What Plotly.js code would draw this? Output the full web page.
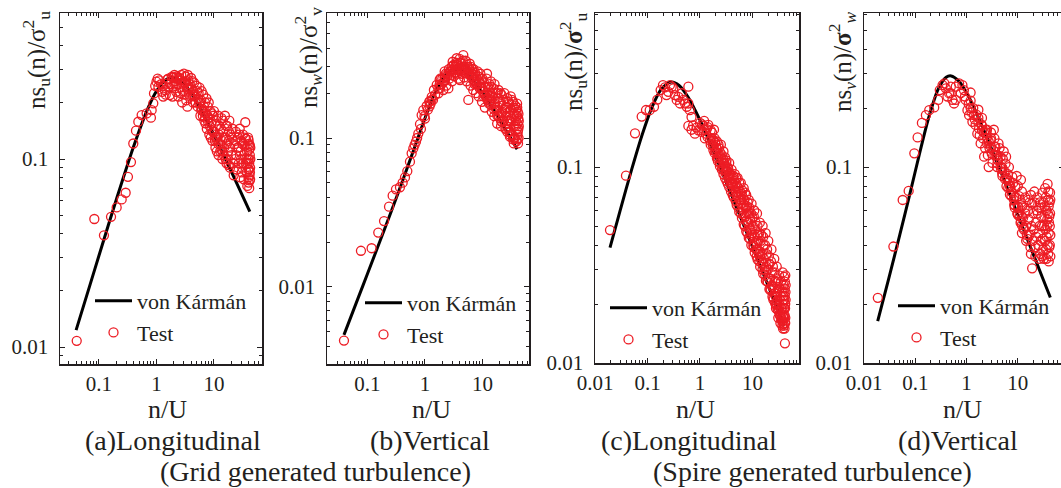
<!DOCTYPE html>
<html>
<head>
<meta charset="utf-8">
<script src="https://cdn.plot.ly/plotly-3.0.1.min.js"></script>
<style>
html, body { margin: 0; padding: 0; overflow: hidden; background: #fff; }
#chart { width: 1066px; height: 488px; }
</style>
</head>
<body>
<div id="chart"></div>
<script>
// ---------------- data ----------------
// (a) Grid turbulence, longitudinal
const vkAx = [0.04, 0.07, 0.1, 0.2, 0.4, 0.7, 1, 1.5, 2, 3, 5, 8, 12, 20, 30, 42];
const vkAy = [0.0123, 0.0215, 0.0307, 0.0608, 0.1167, 0.1845, 0.230, 0.2655, 0.271, 0.251, 0.2014, 0.154, 0.1196, 0.0859, 0.0657, 0.0526];
const testAx = [0.041, 0.083, 0.122, 0.162, 0.203, 0.248, 0.291, 0.319, 0.36, 0.395, 0.44, 0.483, 0.552, 0.674, 0.824, 0.80, 0.88, 0.905, 0.95, 1.0, 1.05, 1.08, 1.12, 1.2, 1.25, 1.31, 1.4, 1.5, 1.6, 1.7, 1.84, 1.96, 2.05, 2.1, 2.2, 2.3, 2.4, 2.5, 2.6, 2.7, 2.8, 2.9, 3.0, 3.1, 3.2, 3.3, 3.4, 3.5, 3.6, 3.7, 3.8, 4.0, 4.1, 4.3, 4.5, 4.7, 5.0, 5.2, 5.4, 5.6, 5.8, 6.0, 6.2, 6.5, 6.8, 7.0, 7.2, 7.5, 7.8, 8.0, 8.3, 8.6, 9.0, 9.4, 9.8, 10.2, 10.6, 11.0, 11.5, 12, 12.5, 13, 13.5, 14, 14.5, 15, 15.5, 16, 16.5, 17, 17.5, 18, 18.5, 19, 19.5, 20, 21, 22, 22.5, 23, 24, 25, 25.5, 26, 27, 28, 28.5, 29, 30, 31, 32, 33, 33.5, 34, 35, 35.5, 36, 37, 37.5, 38, 38.5, 39, 39.5, 40, 40, 40.5, 41, 41, 41.5, 42, 42, 42.5, 42.5,
  1.3, 1.45, 1.55, 1.75, 1.9, 2.15, 2.35, 2.55, 2.75, 3.05, 3.25, 3.45, 3.9, 4.2, 4.4, 4.8, 5.1, 5.3, 5.7, 6.1, 6.4, 6.7, 7.1, 7.4, 7.7, 8.1, 8.4, 8.8, 9.2, 9.6, 10, 10.4, 10.8, 11.2, 11.8, 12.2, 12.8, 13.2, 13.8, 14.3, 14.8, 15.3, 16.2, 16.8, 17.3, 18.2, 19.2, 20.5, 21.5, 23.5, 24.5, 26.5, 27.5, 29.5, 30.5, 31.5, 32.5, 34.5, 36.5, 38.2, 39.2, 40.2, 41.2, 41.8, 42.2, 42.8, 42.8, 40.8, 39.8,
  1.6, 1.9, 2.25, 2.65, 3.15, 3.75, 4.5, 5.5, 6.6, 7.9, 9.5, 11.3, 13.5, 16, 18,
  2.0, 2.5, 3.5, 4.2, 6, 7, 9, 10.5, 12, 14];
const testAy = [0.0108, 0.048, 0.0393, 0.0493, 0.0553, 0.061, 0.0662, 0.0805, 0.0964, 0.121, 0.1416, 0.158, 0.1714, 0.175, 0.182, 0.166, 0.198, 0.2235, 0.245, 0.258, 0.268, 0.2425, 0.262, 0.25, 0.228, 0.215, 0.233, 0.252, 0.24, 0.219, 0.274, 0.243, 0.28, 0.26, 0.228, 0.25, 0.215, 0.27, 0.24, 0.28, 0.2, 0.23, 0.285, 0.255, 0.275, 0.205, 0.24, 0.28, 0.262, 0.22, 0.25, 0.27, 0.235, 0.2, 0.255, 0.215, 0.245, 0.19, 0.225, 0.24, 0.17, 0.205, 0.185, 0.22, 0.16, 0.2, 0.175, 0.145, 0.19, 0.165, 0.135, 0.18, 0.155, 0.125, 0.17, 0.14, 0.115, 0.16, 0.13, 0.105, 0.15, 0.12, 0.165, 0.1, 0.14, 0.115, 0.17, 0.13, 0.095, 0.15, 0.11, 0.125, 0.16, 0.09, 0.135, 0.105, 0.145, 0.082, 0.12, 0.1, 0.14, 0.088, 0.115, 0.13, 0.095, 0.145, 0.08, 0.11, 0.125, 0.09, 0.135, 0.078, 0.105, 0.118, 0.157, 0.095, 0.128, 0.085, 0.11, 0.072, 0.12, 0.1, 0.088, 0.126, 0.075, 0.112, 0.095, 0.07, 0.082, 0.105, 0.118, 0.09, 0.078,
  0.245, 0.22, 0.265, 0.25, 0.215, 0.245, 0.27, 0.225, 0.255, 0.22, 0.26, 0.19, 0.215, 0.26, 0.23, 0.2, 0.23, 0.21, 0.2, 0.23, 0.17, 0.19, 0.155, 0.21, 0.17, 0.2, 0.15, 0.13, 0.175, 0.14, 0.18, 0.125, 0.15, 0.11, 0.17, 0.135, 0.11, 0.145, 0.125, 0.16, 0.105, 0.13, 0.15, 0.12, 0.1, 0.14, 0.115, 0.13, 0.095, 0.125, 0.105, 0.115, 0.135, 0.1, 0.085, 0.12, 0.095, 0.13, 0.1, 0.095, 0.13, 0.1, 0.12, 0.077, 0.085, 0.1, 0.115, 0.088, 0.08,
  0.268, 0.272, 0.275, 0.262, 0.255, 0.24, 0.22, 0.198, 0.178, 0.158, 0.14, 0.126, 0.112, 0.1, 0.093,
  0.271, 0.262, 0.235, 0.218, 0.183, 0.166, 0.143, 0.131, 0.12, 0.11];

// (b) Grid turbulence, vertical
const vkBx = [0.039, 0.07, 0.1, 0.2, 0.35, 0.6, 1, 1.5, 2.5, 4, 6, 10, 15, 25, 40];
const vkBy = [0.00477, 0.00858, 0.01227, 0.02469, 0.0439, 0.0780, 0.1358, 0.2017, 0.2764, 0.2891, 0.2587, 0.2017, 0.1585, 0.1146, 0.0841];
const testBx = [0.039, 0.077, 0.118, 0.154, 0.194, 0.237, 0.274, 0.313, 0.367, 0.409, 0.449, 0.493, 0.548, 0.586, 0.627, 0.66, 0.697, 0.73, 0.766, 0.819, 0.85, 0.875, 0.935, 0.98, 1.07, 1.12, 1.19, 1.25, 1.31, 1.38, 1.43, 1.5, 1.6, 1.71, 1.8, 1.87, 1.95, 2.08, 2.15, 2.23, 2.35, 2.45, 2.55, 2.65, 2.72, 2.85, 2.95, 3.03, 3.1, 3.2, 3.32, 3.4, 3.55, 3.65, 3.8, 3.9, 4.06, 4.2, 4.35, 4.5, 4.64, 4.8, 4.96, 5.1, 5.3, 5.5, 5.67, 5.8, 6.0, 6.2, 6.4, 6.6, 6.9, 7.1, 7.4, 7.7, 8.0, 8.3, 8.6, 9.0, 9.4, 9.8, 10.2, 10.6, 11, 11.5, 12, 12.5, 13, 13.5, 14, 14.5, 15, 15.5, 16, 16.5, 17, 17.5, 18, 18.5, 19, 19.5, 20, 21, 21.5, 22, 23, 23.5, 24, 25, 25.5, 26, 27, 28, 29, 29.5, 30, 31, 32, 33, 33.5, 34, 35, 36, 36.5, 37, 38, 38.5, 39, 39.5, 40, 40, 40.5, 41, 41, 41.5, 42, 42, 42.5,
  2.0, 2.3, 2.6, 2.9, 3.15, 3.5, 3.7, 4.0, 4.3, 4.55, 4.75, 5.2, 5.4, 5.9, 6.3, 6.7, 7.0, 7.3, 7.6, 8.2, 8.8, 9.2, 9.6, 10, 10.4, 11.2, 11.8, 12.2, 13.2, 13.8, 14.2, 15.2, 16.2, 16.8, 18.2, 19.2, 20.5, 22.5, 24.5, 26.5, 27.5, 28.5, 30.5, 31.5, 32.5, 34.5, 35.5, 37.5, 39.2, 40.2, 41.2, 42.2, 42.8, 42.8, 40.8,
  1.0, 1.3, 1.7, 2.2, 2.8, 3.5, 4.4, 5.4, 6.5, 7.8, 9, 11, 13, 16, 19, 22, 26, 30, 34,
  1.2, 1.2, 1.8, 1.8, 2.2, 2.2, 3, 3, 3.6, 3.6, 5, 5, 7, 7, 8, 8, 9, 9, 12, 12, 14, 14, 18, 18, 21, 21, 27, 27, 30, 30, 35, 35];
const testBy = [0.00437, 0.0175, 0.0182, 0.0232, 0.0277, 0.0346, 0.041, 0.0452, 0.0467, 0.0501, 0.0544, 0.06, 0.0694, 0.0789, 0.0853, 0.09, 0.0945, 0.1, 0.107, 0.124, 0.115, 0.1426, 0.154, 0.14, 0.164, 0.155, 0.175, 0.17, 0.189, 0.18, 0.21, 0.195, 0.227, 0.1995, 0.215, 0.251, 0.23, 0.21, 0.24, 0.245, 0.225, 0.26, 0.215, 0.25, 0.279, 0.265, 0.24, 0.325, 0.29, 0.26, 0.30, 0.275, 0.343, 0.31, 0.25, 0.29, 0.245, 0.32, 0.27, 0.3, 0.36, 0.255, 0.286, 0.33, 0.24, 0.3, 0.18, 0.27, 0.315, 0.225, 0.26, 0.29, 0.21, 0.245, 0.275, 0.2, 0.23, 0.26, 0.19, 0.22, 0.25, 0.175, 0.205, 0.235, 0.16, 0.19, 0.27, 0.22, 0.17, 0.2, 0.24, 0.15, 0.185, 0.215, 0.14, 0.17, 0.2, 0.155, 0.125, 0.185, 0.21, 0.14, 0.165, 0.12, 0.195, 0.15, 0.18, 0.13, 0.2, 0.115, 0.16, 0.14, 0.185, 0.125, 0.17, 0.11, 0.15, 0.19, 0.135, 0.105, 0.16, 0.175, 0.12, 0.145, 0.1, 0.165, 0.13, 0.155, 0.095, 0.115, 0.17, 0.14, 0.105, 0.125, 0.15, 0.092, 0.135, 0.115, 0.1,
  0.25, 0.27, 0.29, 0.3, 0.31, 0.32, 0.27, 0.34, 0.295, 0.33, 0.3, 0.28, 0.31, 0.29, 0.3, 0.27, 0.29, 0.23, 0.26, 0.28, 0.24, 0.27, 0.22, 0.25, 0.19, 0.22, 0.25, 0.18, 0.23, 0.19, 0.22, 0.2, 0.23, 0.16, 0.2, 0.175, 0.2, 0.165, 0.155, 0.16, 0.13, 0.175, 0.13, 0.155, 0.18, 0.14, 0.16, 0.12, 0.14, 0.16, 0.11, 0.145, 0.12, 0.13, 0.098,
  0.135, 0.18, 0.215, 0.255, 0.28, 0.29, 0.285, 0.27, 0.25, 0.23, 0.215, 0.195, 0.175, 0.155, 0.14, 0.128, 0.115, 0.105, 0.098,
  0.163, 0.176, 0.228, 0.246, 0.26, 0.28, 0.285, 0.305, 0.29, 0.31, 0.275, 0.295, 0.245, 0.265, 0.232, 0.25, 0.215, 0.232, 0.185, 0.2, 0.167, 0.18, 0.142, 0.153, 0.13, 0.14, 0.11, 0.119, 0.102, 0.11, 0.092, 0.1];

// (c) Spire turbulence, longitudinal
const vkCx = [0.0193, 0.03, 0.05, 0.08, 0.12, 0.18, 0.28, 0.4, 0.6, 1, 1.5, 2.5, 4, 7, 12, 20, 30, 40];
const vkCy = [0.0388, 0.0598, 0.0973, 0.1475, 0.200, 0.2477, 0.2713, 0.2607, 0.2262, 0.1734, 0.1357, 0.0978, 0.0718, 0.0496, 0.03465, 0.0247, 0.0188, 0.0155];
const testCx = [0.0193, 0.0389, 0.0578, 0.0775, 0.0936, 0.11, 0.133, 0.154, 0.178, 0.197, 0.215, 0.23, 0.249, 0.268, 0.289, 0.311, 0.334, 0.36, 0.388, 0.417, 0.45, 0.48, 0.52, 0.56, 0.6, 0.6, 0.64, 0.69, 0.6, 0.69, 0.74, 0.8, 0.86, 0.93, 1.0, 1.07, 1.16, 1.24, 1.34, 1.44, 1.55, 1.6, 1.7, 1.8, 1.9, 2.0, 2.1, 2.2, 2.3, 2.4, 2.5, 2.6, 2.7, 2.8, 2.9, 3.0, 3.1, 3.2, 3.35, 3.5, 3.6, 3.75, 3.9, 4.0, 4.2, 4.4, 4.6, 4.8, 5.0, 5.2, 5.4, 5.7, 6.0, 6.2, 6.5, 6.8, 7.0, 7.3, 7.6, 7.9, 8.2, 8.5, 8.8, 9.2, 9.6, 10, 10.4, 10.8, 11.2, 11.7, 12.2, 12.7, 13.2, 13.8, 14.4, 15, 15.6, 16.2, 17, 17.8, 18.5, 19.2, 20, 21, 22, 23, 24, 25, 26, 27, 28, 29, 30, 31, 32, 33, 34, 35, 36, 37, 37.5, 38, 38.5, 39, 39.5, 40, 40, 40.5, 41, 41, 41.5, 42, 42, 42.5,
  1.65, 1.75, 1.85, 1.95, 2.05, 2.15, 2.25, 2.45, 2.55, 2.75, 2.85, 3.05, 3.15, 3.3, 3.45, 3.55, 3.7, 3.85, 4.1, 4.3, 4.5, 4.7, 4.9, 5.1, 5.3, 5.6, 5.8, 6.1, 6.4, 6.6, 6.9, 7.2, 7.5, 7.8, 8.1, 8.4, 8.7, 9.0, 9.4, 9.8, 10.2, 10.6, 11, 11.5, 12, 12.5, 13, 13.5, 14, 14.7, 15.3, 16, 16.6, 17.4, 18.2, 19, 19.6, 20.5, 21.5, 22.5, 23.5, 24.5, 25.5, 26.5, 27.5, 28.5, 29.5, 30.5, 31.5, 32.5, 33.5, 34.5, 35.5, 36.5, 37.2, 38.2, 38.8, 39.2, 39.8, 40.2, 40.8, 41.2, 41.8, 42.2, 42.8, 42.8, 42.2, 41.5,
  1.1, 1.3, 1.6, 1.9, 2.2, 2.6, 3.0, 3.4, 3.9, 4.4, 5.0, 5.6, 6.3, 7.1, 8.0, 9.0, 10.5, 12, 13.5, 15.5, 17.5, 19.5, 22, 25, 28, 31, 34, 37,
  1.2, 1.2, 1.4, 1.4, 1.8, 1.8, 2.1, 2.1, 2.4, 2.4, 2.8, 2.8, 3.2, 3.2, 3.6, 3.6, 4.2, 4.2, 4.8, 4.8, 5.4, 5.4, 6.0, 6.0, 6.8, 6.8, 7.6, 7.6, 8.5, 8.5, 9.5, 9.5, 11, 11, 12.5, 12.5, 14, 14, 16, 16, 18, 18, 21, 21, 24, 24, 27, 27, 30, 30, 33, 33, 36, 36, 39, 39];
const testCy = [0.0477, 0.0903, 0.1486, 0.181, 0.1954, 0.195, 0.203, 0.221, 0.247, 0.262, 0.255, 0.233, 0.242, 0.262, 0.257, 0.252, 0.233, 0.22, 0.228, 0.211, 0.238, 0.22, 0.211, 0.203, 0.257, 0.211, 0.195, 0.18, 0.162, 0.155, 0.163, 0.148, 0.159, 0.154, 0.168, 0.151, 0.162, 0.14, 0.156, 0.164, 0.137, 0.154, 0.15, 0.128, 0.14, 0.12, 0.135, 0.112, 0.125, 0.105, 0.13, 0.115, 0.098, 0.12, 0.105, 0.112, 0.094, 0.108, 0.1, 0.088, 0.105, 0.093, 0.082, 0.097, 0.088, 0.078, 0.092, 0.083, 0.072, 0.088, 0.078, 0.068, 0.083, 0.073, 0.062, 0.078, 0.068, 0.056, 0.072, 0.063, 0.052, 0.068, 0.058, 0.048, 0.065, 0.055, 0.04, 0.06, 0.048, 0.038, 0.058, 0.045, 0.036, 0.052, 0.042, 0.033, 0.05, 0.04, 0.03, 0.046, 0.036, 0.026, 0.042, 0.032, 0.024, 0.038, 0.029, 0.021, 0.034, 0.026, 0.019, 0.031, 0.023, 0.017, 0.028, 0.021, 0.016, 0.026, 0.019, 0.0155, 0.029, 0.022, 0.017, 0.025, 0.019, 0.0275, 0.0155, 0.021, 0.024, 0.0175, 0.0126, 0.02, 0.016, 0.023,
  0.14, 0.13, 0.155, 0.133, 0.125, 0.118, 0.13, 0.118, 0.11, 0.11, 0.1, 0.1, 0.105, 0.095, 0.098, 0.092, 0.086, 0.09, 0.083, 0.09, 0.085, 0.079, 0.088, 0.08, 0.074, 0.083, 0.075, 0.068, 0.076, 0.07, 0.064, 0.074, 0.062, 0.058, 0.066, 0.058, 0.062, 0.054, 0.058, 0.046, 0.05, 0.056, 0.044, 0.052, 0.041, 0.05, 0.042, 0.046, 0.037, 0.045, 0.036, 0.044, 0.034, 0.04, 0.031, 0.038, 0.03, 0.035, 0.027, 0.033, 0.025, 0.031, 0.024, 0.029, 0.022, 0.027, 0.02, 0.026, 0.019, 0.024, 0.018, 0.022, 0.017, 0.023, 0.02, 0.015, 0.021, 0.023, 0.017, 0.019, 0.015, 0.022, 0.019, 0.017, 0.021, 0.025, 0.028, 0.026,
  0.165, 0.148, 0.13, 0.118, 0.107, 0.097, 0.088, 0.082, 0.075, 0.07, 0.064, 0.059, 0.055, 0.05, 0.046, 0.043, 0.039, 0.035, 0.033, 0.03, 0.028, 0.026, 0.0235, 0.0215, 0.0198, 0.0185, 0.0173, 0.0163,
  0.155, 0.172, 0.142, 0.16, 0.122, 0.137, 0.111, 0.124, 0.101, 0.114, 0.092, 0.104, 0.085, 0.096, 0.079, 0.089, 0.072, 0.081, 0.067, 0.075, 0.062, 0.07, 0.058, 0.065, 0.051, 0.057, 0.047, 0.053, 0.0435, 0.049, 0.04, 0.045, 0.0366, 0.041, 0.0337, 0.038, 0.031, 0.035, 0.0285, 0.032, 0.0263, 0.0295, 0.0238, 0.027, 0.0218, 0.0245, 0.0202, 0.0227, 0.0188, 0.021, 0.0176, 0.0198, 0.0167, 0.0188, 0.0158, 0.0177];

// (d) Spire turbulence, vertical
const vkDx = [0.0185, 0.03, 0.05, 0.08, 0.12, 0.18, 0.28, 0.4, 0.5, 0.7, 1, 1.5, 2.5, 4, 7, 12, 20, 30, 43];
const vkDy = [0.01634, 0.02666, 0.04514, 0.07446, 0.1159, 0.1764, 0.25, 0.287, 0.2917, 0.2751, 0.2391, 0.193, 0.1414, 0.1045, 0.0724, 0.0505, 0.0359, 0.0274, 0.0216];
const testDx = [0.0186, 0.0374, 0.0568, 0.0743, 0.0957, 0.111, 0.1346, 0.161, 0.187, 0.234, 0.28, 0.3, 0.34, 0.394, 0.424, 0.456, 0.493, 0.53, 0.57, 0.616, 0.715, 0.83, 0.89, 0.96, 1.04, 0.49, 0.37, 0.616, 0.77, 0.93, 1.12, 1.2, 1.3, 1.4, 1.5, 1.62, 1.75, 1.88, 2.0, 2.2, 2.35, 2.5, 2.7, 2.95, 3.1, 3.4, 3.65, 3.95, 4.2, 4.6, 4.95, 5.3, 5.75, 6.2, 6.7, 7.2, 7.8, 8.4, 9.0, 9.8, 10.5, 11.3, 12.1, 13.1, 14.1, 15.3, 16.3, 17.6, 19, 19, 20.5, 22, 23.5, 25.5, 27.5, 28.5, 30.5, 32, 33.5, 34.5, 35.5, 37.5, 39, 39, 40, 40, 41, 41, 42, 43, 43, 10, 12, 14, 16, 18, 21, 24, 27, 30, 34, 38, 9.5, 11.5, 12, 14.5, 18, 22, 26, 30, 36, 40,
  1.1, 1.25, 1.35, 1.45, 1.55, 1.7, 1.8, 1.95, 2.1, 2.3, 2.45, 2.6, 2.8, 3.0, 3.2, 3.5, 3.8, 4.1, 4.4, 4.8, 5.1, 5.5, 5.9, 6.4, 6.9, 7.5, 8.1, 8.7, 9.3, 10.2, 10.8, 11.6, 12.6, 13.6, 14.6, 15.8, 16.8, 17, 18.5, 19.5, 20, 21, 22.5, 23, 24.5, 25, 26, 26.5, 28, 29, 29.5, 31, 31.5, 32.5, 33, 34, 35, 36, 36.5, 37, 38, 38.5, 39.5, 40.5, 41.5, 42, 42.5, 42.5, 43,
  2.2, 2.7, 3.3, 4.0, 4.7, 5.6, 6.5, 7.5, 8.7, 10, 11.5, 13, 15,
  1.2, 1.2, 1.7, 1.7, 2.0, 2.0, 2.5, 2.5, 3.0, 3.0, 3.5, 3.5, 4.0, 4.0, 5.0, 5.0, 6.0, 6.0, 7.0, 7.0, 8.5, 8.5, 10, 10, 12, 12];
const testDy = [0.0215, 0.0393, 0.0679, 0.0755, 0.1175, 0.1416, 0.168, 0.184, 0.195, 0.2015, 0.22, 0.247, 0.262, 0.252, 0.229, 0.238, 0.257, 0.22, 0.211, 0.257, 0.267, 0.262, 0.247, 0.22, 0.195, 0.238, 0.267, 0.22, 0.238, 0.229, 0.184, 0.2, 0.17, 0.184, 0.164, 0.148, 0.157, 0.132, 0.154, 0.113, 0.155, 0.132, 0.1, 0.137, 0.117, 0.155, 0.127, 0.1, 0.132, 0.113, 0.093, 0.12, 0.104, 0.086, 0.1, 0.079, 0.089, 0.068, 0.079, 0.058, 0.071, 0.052, 0.063, 0.048, 0.058, 0.043, 0.054, 0.039, 0.0304, 0.065, 0.048, 0.039, 0.06, 0.046, 0.036, 0.056, 0.043, 0.034, 0.063, 0.048, 0.038, 0.054, 0.068, 0.036, 0.063, 0.046, 0.056, 0.039, 0.05, 0.035, 0.068, 0.08, 0.075, 0.07, 0.068, 0.072, 0.075, 0.07, 0.066, 0.074, 0.078, 0.082, 0.09, 0.086, 0.046, 0.042, 0.036, 0.035, 0.034, 0.035, 0.034, 0.033,
  0.21, 0.19, 0.2, 0.175, 0.185, 0.17, 0.145, 0.165, 0.14, 0.125, 0.15, 0.115, 0.125, 0.15, 0.105, 0.14, 0.115, 0.108, 0.125, 0.1, 0.11, 0.095, 0.113, 0.092, 0.085, 0.075, 0.083, 0.062, 0.07, 0.062, 0.056, 0.066, 0.055, 0.062, 0.05, 0.06, 0.045, 0.066, 0.05, 0.042, 0.058, 0.066, 0.052, 0.044, 0.058, 0.04, 0.062, 0.05, 0.042, 0.062, 0.05, 0.038, 0.066, 0.05, 0.056, 0.042, 0.07, 0.06, 0.044, 0.05, 0.04, 0.058, 0.075, 0.052, 0.066, 0.04, 0.074, 0.058, 0.045,
  0.15, 0.135, 0.122, 0.11, 0.098, 0.087, 0.078, 0.071, 0.064, 0.058, 0.053, 0.049, 0.045,
  0.218, 0.24, 0.178, 0.196, 0.162, 0.178, 0.141, 0.155, 0.127, 0.14, 0.115, 0.127, 0.1045, 0.115, 0.09, 0.099, 0.08, 0.088, 0.0724, 0.08, 0.064, 0.07, 0.057, 0.063, 0.0505, 0.056];

const majorVals = [0.01, 0.1, 1, 10];
const majorText = ['0.01', '0.1', '1', '10'];
const seriesNames = ['von Kármán', 'Test'];
const captions = ['(a)Longitudinal', '(b)Vertical', '(c)Longitudinal', '(d)Vertical', '(Grid generated turbulence)', '(Spire generated turbulence)'];
const yTitles = ['ns<sub>u</sub>(n)/σ<sup>2</sup><sub>u</sub>', 'ns<sub><i>w</i></sub>(n)/σ<sup>2</sup><sub>v</sub>', 'ns<sub>u</sub>(n)/<b>σ</b><sup>2</sup><sub>u</sub>', 'ns<sub><i>v</i></sub>(n)/<b>σ</b><sup>2</sup><sub><i>w</i></sub>'];
const xTitle = 'n/U';

// ---------------- layout ----------------
const W = 1066, H = 488;
const FONT = 'Liberation Serif, Times New Roman, Times, serif';
const INK = '#231f20';
const RED = '#ed1c24';

const minorVals = [];
for (let k = -3; k <= 1; k++) for (let m = 2; m <= 9; m++) minorVals.push(m * Math.pow(10, k));

const panels = [
  {vx: vkAx, vy: vkAy, tx: testAx, ty: testAy, xd: [60, 262], yd: [13, 364], xr: [-1.678, 1.835], yr: [-2.090, -0.223], leg: [90, 280], ttl: [36, 60], xt: [167, 409]},
  {vx: vkBx, vy: vkBy, tx: testBx, ty: testBy, xd: [327, 529], yd: [13, 364], xr: [-1.704, 1.809], yr: [-2.517, -0.161], leg: [360, 282], ttl: [308, 58], xt: [431, 409]},
  {vx: vkCx, vy: vkCy, tx: testCx, ty: testCy, xd: [595, 799], yd: [13, 363], xr: [-2, 1.886], yr: [-2.0, -0.214], leg: [605, 287], ttl: [573, 62], xt: [695, 409]},
  {vx: vkDx, vy: vkDy, tx: testDx, ty: testDy, xd: [864, 1064], yd: [13, 363], xr: [-2, 1.9], yr: [-2.0, -0.214], leg: [893, 285], ttl: [842, 62], xt: [962, 409]}
];

const data = [];
const layout = {
  width: W, height: H,
  margin: {l: 0, r: 0, t: 0, b: 0},
  paper_bgcolor: '#fff', plot_bgcolor: '#fff',
  font: {family: FONT, color: INK},
  showlegend: true,
  annotations: []
};

panels.forEach((p, i) => {
  const n = i === 0 ? '' : String(i + 1);
  const legName = 'legend' + n;
  data.push({
    x: p.vx, y: p.vy, xaxis: 'x' + n, yaxis: 'y' + n,
    mode: 'lines', line: {color: '#000', width: 3, shape: 'spline', smoothing: 0.8},
    name: seriesNames[0], legend: legName, hoverinfo: 'skip'
  });
  data.push({
    x: p.tx, y: p.ty, xaxis: 'x' + n, yaxis: 'y' + n,
    mode: 'markers', marker: {symbol: 'circle-open', size: 9, color: RED, line: {color: RED, width: 1.3}},
    name: seriesNames[1], legend: legName, hoverinfo: 'skip'
  });
  const common = {
    type: 'log', showgrid: false, zeroline: false,
    showline: true, linecolor: INK, linewidth: 1.5, mirror: 'ticks',
    ticks: 'inside', ticklen: 5, tickwidth: 1, tickcolor: INK,
    tickvals: majorVals, ticktext: majorText,
    tickfont: {family: FONT, size: 21, color: INK},
    minor: {tickvals: minorVals, ticks: 'inside', ticklen: 3, tickwidth: 1, tickcolor: INK, showgrid: false}
  };
  layout['xaxis' + n] = Object.assign({}, common, {
    domain: [p.xd[0] / W, p.xd[1] / W], range: p.xr, anchor: 'y' + n, ticklabelstandoff: 0
  });
  layout['yaxis' + n] = Object.assign({}, common, {
    domain: [1 - p.yd[1] / H, 1 - p.yd[0] / H], range: p.yr, anchor: 'x' + n, ticklabelstandoff: 6
  });
  layout[legName] = {
    x: p.leg[0] / W, y: 1 - p.leg[1] / H, xanchor: 'left', yanchor: 'top',
    bgcolor: 'rgba(0,0,0,0)', borderwidth: 0, itemwidth: 37,
    font: {family: FONT, size: 22, color: INK}, tracegroupgap: 0
  };
  layout.annotations.push({
    text: yTitles[i], xref: 'paper', yref: 'paper', x: p.ttl[0] / W, y: 1 - p.ttl[1] / H,
    xanchor: 'center', yanchor: 'middle', textangle: -90, showarrow: false,
    font: {family: FONT, size: 25, color: INK}
  });
  layout.annotations.push({
    text: xTitle, xref: 'paper', yref: 'paper', x: p.xt[0] / W, y: 1 - p.xt[1] / H,
    xanchor: 'center', yanchor: 'middle', showarrow: false,
    font: {family: FONT, size: 26, color: INK}
  });
});

const capPos = [[173, 440], [430, 440], [689, 440], [958, 440], [315, 471], [812, 471]];
captions.forEach((c, i) => {
  layout.annotations.push({
    text: c, xref: 'paper', yref: 'paper', x: capPos[i][0] / W, y: 1 - capPos[i][1] / H,
    xanchor: 'center', yanchor: 'middle', showarrow: false,
    font: {family: FONT, size: 28, color: INK}
  });
});

Plotly.newPlot('chart', data, layout, {staticPlot: true, displayModeBar: false});
</script>
</body>
</html>
